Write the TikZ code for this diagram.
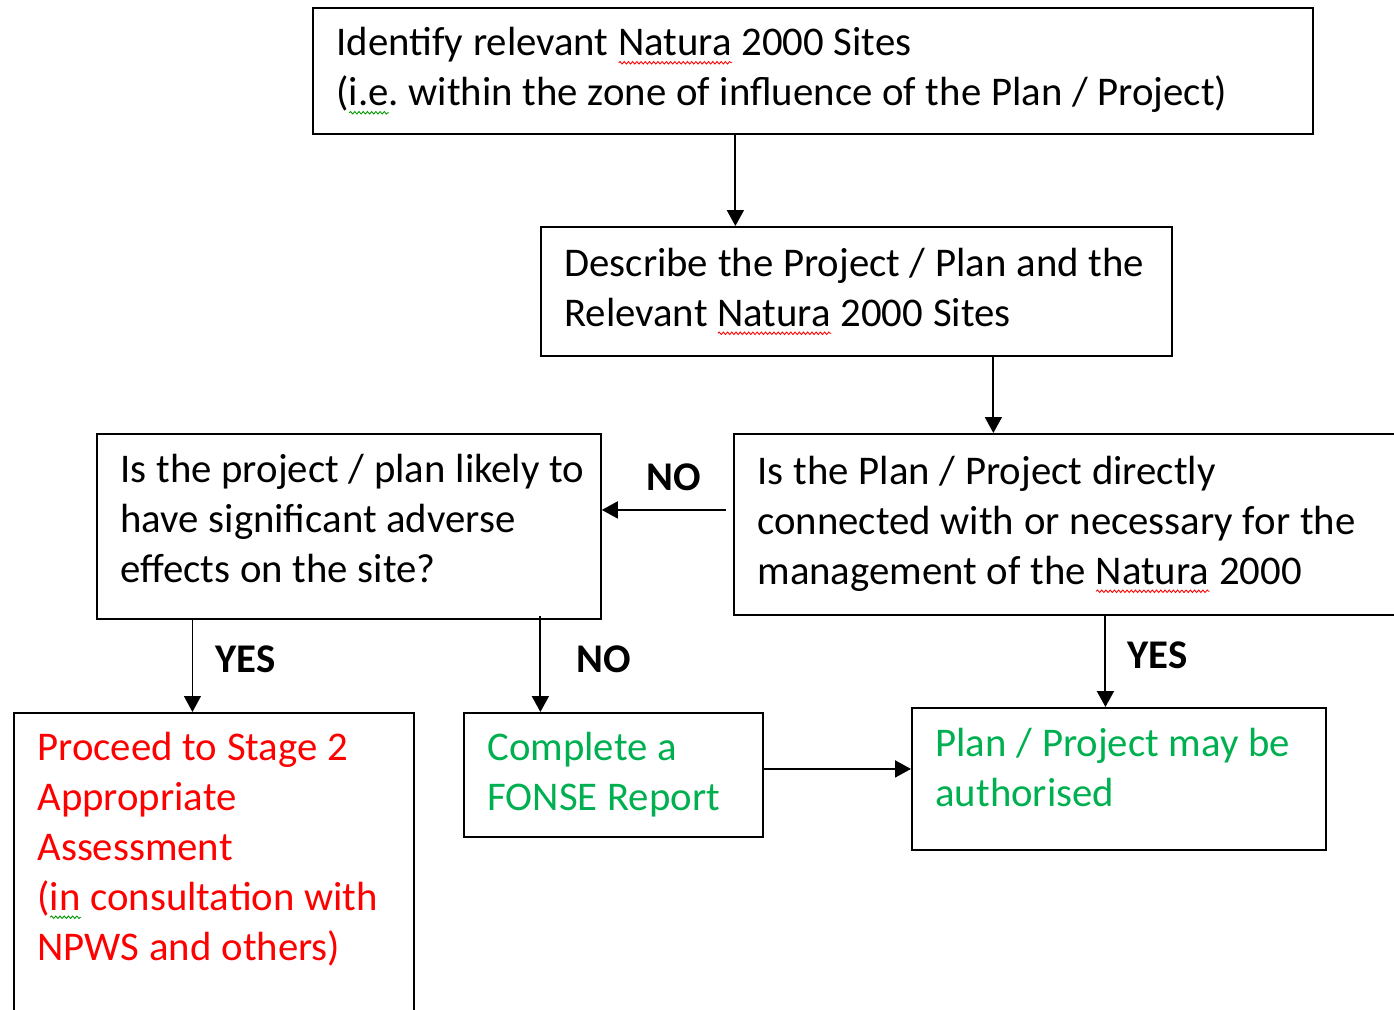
\documentclass[tikz,border=0pt]{standalone}
\usepackage{fontspec}
\setmainfont{Carlito}
\usetikzlibrary{arrows.meta, positioning, calc, decorations.pathmorphing}

\definecolor{stopred}{RGB}{255,0,0}
\definecolor{gogreen}{RGB}{0,176,80}
\definecolor{grammargreen}{RGB}{0,150,0}
\newcommand{\padgap}[1]{\endgraf\vspace*{#1}}
\newcommand{\flushtext}{\parindent=0pt\raggedright\rightskip=-0.6cm plus 1fil\frenchspacing\spaceskip=0.24em\relax}
% wavy proof-reading mark under a word
\newlength{\wavelen}
\newcommand{\spellwave}[2]{\settowidth{\wavelen}{#2}\rlap{\tikz[baseline=0pt]\draw[#1, line width=0.5pt, decorate,
    decoration={snake, amplitude=0.7pt, segment length=2.4pt}] (0pt,-4pt) -- (\wavelen,-4pt);}#2}

\begin{document}
\begin{tikzpicture}[
        x=0.02cm, y=-0.02cm, % one unit = one pixel of the page
        font=\fontsize{23.2}{28.45}\selectfont,
        box/.style={rectangle, draw, line width=1.1pt, anchor=north west,
                    inner xsep=0.47cm, inner ysep=0.2cm, execute at begin node={\flushtext}},
        arrow/.style={-{Triangle[length=3.2mm, width=3.4mm]}, line width=1.1pt},
        answer/.style={font=\fontsize{23.2}{28.45}\selectfont\bfseries, anchor=base west, inner sep=0pt},
        padbottom/.style={execute at end node={\padgap{#1}}}
      ]

      \clip (0,0) rectangle (1394,1010);

      % --- Boxes ---
      \node (ident) [box, text width=19.06cm, minimum height=2.52cm] at (312,7)
            {Identify relevant \spellwave{red}{Natura} 2000 Sites\\(\spellwave{grammargreen}{i.e}. within the zone of influence of the Plan / Project)};
      \node (desc) [box, text width=11.68cm, minimum height=2.58cm] at (540,226)
            {Describe the Project / Plan and the\\Relevant \spellwave{red}{Natura} 2000 Sites};
      \node (likely) [box, text width=9.14cm, minimum height=3.7cm, padbottom=0.32cm] at (96,433)
            {Is the project / plan likely to\\have significant adverse\\effects on the site?};
      \node (conn) [box, text width=12.6cm, minimum height=3.62cm] at (733,433)
            {Is the Plan / Project directly\\connected with or necessary for the\\management of the \spellwave{red}{Natura} 2000};

      % Outcomes
      \node (stage2) [box, text=stopred, text width=7.06cm, inner ysep=0.38cm, padbottom=1.2cm] at (13,712)
            {Proceed to Stage 2\\Appropriate\\Assessment\\(\spellwave{grammargreen}{in} consultation with\\NPWS and others)};
      \node (fonse) [box, text=gogreen, text width=5.04cm, minimum height=2.48cm] at (463,712)
            {Complete a\\FONSE Report};
      \node (auth) [box, text=gogreen, text width=7.34cm, minimum height=2.84cm, padbottom=0.44cm] at (911,707)
            {Plan / Project may be\\authorised};

      % --- Answers ---
      \node (no_conn) [answer] at (646,490) {NO};
      \node (yes_likely) [answer] at (215,672) {YES};
      \node (no_likely) [answer] at (576,672) {NO};
      \node (yes_conn) [answer] at (1127,668) {YES};

      % --- Arrows ---
      \draw [arrow] ([xshift=-1.55cm]ident.south) -- ([xshift=-1.55cm]ident.south |- desc.north);
      \draw [arrow] ([xshift=2.74cm]desc.south) -- ([xshift=2.74cm]desc.south |- conn.north);
      \draw [arrow, shorten <=0.14cm] ([yshift=0.29cm]conn.west) -- ([yshift=0.29cm]conn.west -| likely.east);
      \draw [arrow, line width=0.6pt] ([xshift=-3.13cm]likely.south) -- ([xshift=-3.13cm]likely.south |- stage2.north);
      \draw [arrow] ([xshift=3.83cm, yshift=0.08cm]likely.south) -- ([xshift=3.83cm]likely.south |- fonse.north);
      \draw [arrow] ([xshift=-0.27cm]auth.north |- conn.south) -- ([xshift=-0.27cm]auth.north);
      \draw [arrow] ([yshift=0.12cm]fonse.east) -- ([yshift=0.12cm]fonse.east -| auth.west);

    \end{tikzpicture}
\end{document}
